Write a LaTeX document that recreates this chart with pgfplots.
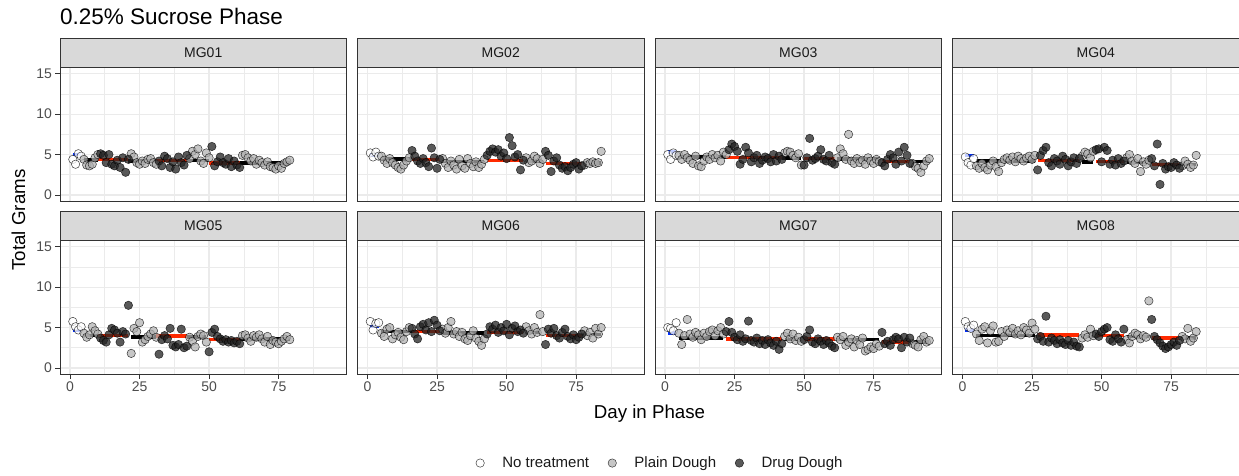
\documentclass[border=0pt]{standalone}
\usepackage{fontspec}
\setmainfont{Liberation Sans}
\usepackage{pgfplots}
\pgfplotsset{compat=1.18}
\definecolor{gridc}{HTML}{EBEBEB}
\definecolor{g20}{HTML}{333333}
\definecolor{g30}{HTML}{4D4D4D}
\definecolor{g10}{HTML}{1A1A1A}
\definecolor{stripc}{HTML}{D9D9D9}
\definecolor{lightpt}{HTML}{B0B0B0}
\definecolor{darkpt}{HTML}{222222}
\definecolor{segred}{HTML}{FF2A00}
\definecolor{segblue}{HTML}{0030FF}
\pgfplotsset{
  /pgf/number format/assume math mode=true,
  panel/.style={
    scale only axis, width=286.5pt, height=133.3pt,
    xmin=-3.6, xmax=99.4, ymin=-0.75, ymax=15.75,
    xtick={0,25,50,75}, ytick={0,5,10,15},
    minor xtick={12.5,37.5,62.5,87.5}, minor ytick={2.5,7.5,12.5},
    grid=both,
    major grid style={draw=gridc, line width=1.3pt},
    minor grid style={draw=gridc, line width=0.65pt},
    axis line style={draw=g20, line width=0.8pt},
    tick align=outside, major tick length=4.6pt, minor tick length=0pt,
    major tick style={draw=g20, line width=0.8pt},
    xtick pos=bottom, ytick pos=left,
    ticklabel style={font=\fontsize{14}{14}\selectfont, text=g30},
    title style={at={(0.5,1)}, anchor=south, yshift=-6pt, minimum width=286.5pt,
      minimum height=28.8pt, inner sep=0pt, fill=stripc, draw=g20, line width=0.8pt,
      font=\fontsize{14}{14}\selectfont, text=g10},
    clip=false,
  },
  hidex/.style={xmajorticks=false, xticklabels={}},
  hidey/.style={ymajorticks=false, yticklabels={}},
  ntp/.style={only marks, mark=*, mark size=4.2pt, mark options={draw=black, draw opacity=0.75, fill=white, fill opacity=0.75, line width=0.5pt}},
  pdp/.style={only marks, mark=*, mark size=4.2pt, mark options={draw=black, draw opacity=0.75, fill=lightpt, fill opacity=0.72, line width=0.5pt}},
  ddp/.style={only marks, mark=*, mark size=4.2pt, mark options={draw=black, draw opacity=0.75, fill=darkpt, fill opacity=0.75, line width=0.5pt}},
  seg/.style={no marks, line width=3.6pt, unbounded coords=jump, forget plot},
}
\newcommand{\pts}[3]{%
  \addplot[ntp] coordinates {#1};
  \addplot[pdp] coordinates {#2};
  \addplot[ddp] coordinates {#3};
}
\newcommand{\segs}[3]{%
  \addplot[seg, segblue] coordinates {#1};
  \addplot[seg, black] coordinates {#2};
  \addplot[seg, segred] coordinates {#3};
}
\begin{document}
\begin{tikzpicture}
\useasboundingbox (0pt,0pt) rectangle (1239pt,475pt);
\node[anchor=base west, font=\fontsize{22.5}{27}\selectfont, inner sep=0pt] at (60pt,450pt) {0.25\% Sucrose Phase};
\node[anchor=base, font=\fontsize{18.7}{22}\selectfont, inner sep=0pt] at (649.5pt,57pt) {Day in Phase};
\node[anchor=base, rotate=90, font=\fontsize{18.7}{22}\selectfont, inner sep=0pt] at (25pt,255pt) {Total Grams};

% MG01
\begin{axis}[panel, hidex, at={(60pt,274pt)}, anchor=south west, title={MG01}]
\pts{(1,4.4)(2,3.8)(3,5.1)(4,4.8)}
{(5,4.4)(6,3.7)(7,3.6)(8,3.8)(9,4.6)(10,5.0) (22,5.1)(23,4.7)(24,4.0)(25,3.8)(26,4.2)(27,3.9)(28,4.4)(29,4.5)(30,4.0)(31,3.8) (43,4.5)(44,5.4)(45,5.0)(46,5.7)(47,4.2)(48,3.9)(49,5.2)(50,4.6) (62,4.9)(63,5.0)(64,4.6)(65,4.2)(66,4.5)(67,3.8)(68,4.3)(69,4.0)(70,3.7)(71,4.1)(72,3.5)(73,3.4)(74,3.2)(75,3.6)(76,3.3)(77,3.9)(78,4.1)(79,4.3)}
{(11,5.1)(12,4.9)(13,4.0)(14,5.0)(15,3.8)(16,3.6)(17,4.3)(18,3.4)(19,4.6)(20,2.8)(21,4.4) (32,4.2)(33,3.6)(34,4.8)(35,4.5)(36,3.4)(37,4.1)(38,3.2)(39,4.7)(40,4.0)(41,3.7)(42,4.9) (51,6.0)(52,3.6)(53,4.1)(54,4.7)(55,4.0)(56,3.8)(57,4.5)(58,3.5)(59,4.2)(60,3.7)(61,3.4)}
\segs{(1,5.0)(4,5.0)}
{(5,4.3)(10,4.3)(0,nan)(21,4.17)(31,4.17)(0,nan)(42,4.25)(50,4.25)(0,nan)(61,3.97)(79,3.97)}
{(10,4.37)(21,4.37)(0,nan)(31,4.25)(42,4.25)(0,nan)(50,3.97)(61,3.97)}
\end{axis}

% MG02
\begin{axis}[panel, hidex, hidey, at={(357.5pt,274pt)}, anchor=south west, title={MG02}]
\pts{(1,5.2)(2,4.7)(3,5.3)(4,4.8)}
{(5,4.8)(6,4.3)(7,3.9)(8,4.5)(9,4.0)(10,3.7)(11,3.4)(12,3.2)(13,3.7)(14,4.2)(15,4.6) (27,4.5)(28,3.9)(29,3.4)(30,4.2)(31,3.7)(32,3.2)(33,4.4)(34,3.6)(35,3.3)(36,4.5)(37,3.9)(38,3.5)(39,4.1)(40,3.4)(41,3.8)(42,4.4) (57,4.6)(58,4.0)(59,4.2)(60,4.8)(61,4.5)(62,3.9)(63,4.4) (78,3.7)(79,4.0)(80,3.9)(81,4.1)(82,3.9)(83,4.0)(84,5.4)}
{(16,5.5)(17,4.8)(18,4.2)(19,3.9)(20,4.5)(21,4.0)(22,3.5)(23,5.8)(24,4.6)(25,3.3)(26,4.4) (43,4.9)(44,5.4)(45,5.7)(46,5.3)(47,5.6)(48,4.8)(49,5.2)(50,4.5)(51,7.1)(52,6.1)(53,4.7)(54,5.0)(55,3.1)(56,4.3) (64,5.4)(65,4.9)(66,2.9)(67,4.2)(68,4.6)(69,3.7)(70,3.3)(71,3.5)(72,3.0)(73,3.4)(74,3.8)(75,4.0)(76,3.2)(77,3.6)}
\segs{(1,4.98)(4,4.98)}
{(5,4.45)(16,4.45)(0,nan)(27,4.12)(42,4.12)(0,nan)(57,4.12)(63,4.12)(0,nan)(78,3.92)(84,3.92)}
{(16,4.37)(26,4.37)(0,nan)(43,4.24)(56,4.24)(0,nan)(64,3.88)(77,3.88)}
\end{axis}

% MG03
\begin{axis}[panel, hidex, hidey, at={(655pt,274pt)}, anchor=south west, title={MG03}]
\pts{(1,5.0)(2,4.4)(3,5.2)(4,4.9)}
{(5,4.9)(6,4.4)(7,5.0)(8,4.6)(9,4.3)(10,3.9)(11,4.8)(12,3.6)(13,3.5)(14,4.2)(15,4.7)(16,4.4)(17,5.0)(18,4.6)(19,4.9)(20,4.2)(21,5.3)(22,5.0) (43,5.2)(44,5.4)(45,5.3)(46,4.9)(47,4.6)(48,5.1)(49,3.7) (62,4.6)(63,5.7)(64,5.1)(65,4.4)(66,7.5)(67,4.2)(68,3.9)(69,4.5)(70,4.0)(71,4.3)(72,3.8)(73,4.6)(74,4.2)(75,3.9)(76,4.4)(77,4.1) (89,3.9)(90,3.5)(91,3.3)(92,2.8)(93,3.6)(94,4.2)(95,4.5)}
{(23,5.6)(24,6.3)(25,6.0)(26,5.4)(27,3.8)(28,4.4)(29,5.9)(30,5.2)(31,4.1)(32,4.6)(33,4.9)(34,3.9)(35,4.3)(36,4.7)(37,4.5)(38,4.1)(39,5.0)(40,4.2)(41,4.8)(42,4.4) (50,3.7)(51,4.6)(52,7.0)(53,4.3)(54,4.5)(55,4.8)(56,5.6)(57,4.4)(58,4.2)(59,4.9)(60,4.0)(61,3.8) (78,4.0)(79,3.6)(80,4.4)(81,5.0)(82,4.6)(83,3.8)(84,5.3)(85,4.2)(86,5.9)(87,4.9)(88,3.9)}
\segs{(1,5.3)(4,5.3)}
{(5,4.7)(22,4.7)(0,nan)(42,4.6)(49,4.6)(0,nan)(62,4.45)(77,4.45)(0,nan)(89,4.12)(95,4.12)}
{(22,4.65)(42,4.65)(0,nan)(50,4.53)(61,4.53)(0,nan)(78,4.12)(88,4.12)}
\end{axis}

% MG04
\begin{axis}[panel, hidex, hidey, at={(952.5pt,274pt)}, anchor=south west, title={MG04}]
\pts{(1,4.7)(2,4.0)(3,3.7)(4,4.5)}
{(5,3.6)(6,3.3)(7,3.9)(8,3.4)(9,3.1)(10,3.7)(11,4.2)(12,3.5)(13,2.9)(14,4.0)(15,4.4)(16,4.6)(17,4.3)(18,4.7)(19,4.1)(20,4.8)(21,4.5)(22,4.2)(23,4.6)(24,4.8)(25,4.4)(26,4.9) (43,4.8)(44,5.3)(45,5.1)(46,4.6)(47,5.4) (59,4.6)(60,5.0)(61,4.2)(62,3.9)(63,4.5)(64,2.9)(65,4.1)(66,3.8)(67,4.3) (79,3.6)(80,4.2)(81,3.8)(82,3.4)(83,3.7)(84,4.9)}
{(27,3.1)(28,4.9)(29,5.5)(30,5.9)(31,4.0)(32,3.6)(33,4.5)(34,4.2)(35,3.8)(36,4.8)(37,4.4)(38,3.6)(39,4.1)(40,4.6)(41,3.9)(42,4.5) (48,5.6)(49,5.7)(50,4.1)(51,5.9)(52,5.5)(53,3.8)(54,4.3)(55,3.7)(56,4.5)(57,3.9)(58,4.2) (68,4.5)(69,3.6)(70,6.3)(71,1.3)(72,3.9)(73,3.2)(74,3.5)(75,3.4)(76,4.0)(77,3.7)(78,3.3)}
\segs{(1,4.86)(4,4.86)}
{(5,4.2)(26,4.2)(0,nan)(43,4.08)(47,4.08)(0,nan)(59,4.04)(67,4.04)(0,nan)(78,3.76)(84,3.76)}
{(27,4.24)(42,4.24)(0,nan)(48,4.12)(58,4.12)(0,nan)(68,3.76)(78,3.76)}
\end{axis}

% MG05
\begin{axis}[panel, at={(60pt,101pt)}, anchor=south west, title={MG05},
  legend style={at={(2.095,-0.668)}, anchor=center, draw=none, fill=none,
    font=\fontsize{15}{17}\selectfont, text=g10,
    /tikz/every odd column/.append style={column sep=16pt},
    /tikz/every even column/.append style={column sep=17pt}},
  legend columns=3]
\addplot[ntp] coordinates {(1,5.75)(2,5.1)(3,4.7)(4,5.1)};
\addlegendentry{No treatment}
\addplot[pdp] coordinates {(5,4.3)(6,3.8)(7,4.1)(8,5.1)(9,4.6)(10,4.2) (22,1.8)(23,4.9)(24,4.5)(25,5.6)(26,3.2)(27,3.5)(28,3.9)(29,4.2)(30,4.6)(31,3.8) (43,3.8)(44,3.3)(45,2.6)(46,3.9)(47,4.2)(48,4.0)(49,3.2) (62,4.0)(63,4.1)(64,3.7)(65,3.3)(66,4.0)(67,3.8)(68,4.1)(69,3.6)(70,3.2)(71,3.9)(72,2.9)(73,3.4)(74,3.2)(75,3.0)(76,3.3)(77,3.6)(78,3.9)(79,3.5)};
\addlegendentry{Plain Dough}
\addplot[ddp] coordinates {(11,3.7)(12,3.4)(13,3.2)(14,4.1)(15,4.9)(16,4.7)(17,4.3)(18,3.2)(19,4.5)(20,4.2)(21,7.75) (32,1.7)(33,3.5)(34,4.0)(35,3.6)(36,4.9)(37,2.8)(38,2.6)(39,2.9)(40,4.8)(41,2.5)(42,2.7) (50,2.0)(51,4.4)(52,4.8)(53,3.9)(54,3.6)(55,3.3)(56,3.5)(57,3.2)(58,3.4)(59,3.1)(60,3.3)(61,3.0)};
\addlegendentry{Drug Dough}
\segs{(1,4.65)(4,4.65)}
{(5,4.0)(10,4.0)(0,nan)(22,3.84)(31,3.84)(0,nan)(42,3.84)(49,3.84)(0,nan)(61,3.6)(79,3.6)}
{(10,4.0)(21,4.0)(0,nan)(31,3.92)(42,3.92)(0,nan)(50,3.5)(61,3.5)}
\end{axis}

% MG06
\begin{axis}[panel, hidey, at={(357.5pt,101pt)}, anchor=south west, title={MG06}]
\pts{(1,5.75)(2,4.7)(3,5.5)(4,5.6)}
{(5,4.3)(6,3.9)(7,4.8)(8,5.0)(9,3.6)(10,4.1)(11,4.4)(12,3.8)(13,3.5)(14,4.5)(15,5.0) (27,4.8)(28,4.3)(29,5.0)(30,5.75)(31,4.2)(32,4.5)(33,3.9)(34,4.4)(35,3.6)(36,3.4)(37,4.0)(38,4.6)(39,3.7)(40,3.3)(41,2.8)(42,3.6) (57,5.1)(58,4.6)(59,4.2)(60,5.0)(61,4.4)(62,6.6)(63,4.5) (78,4.6)(79,4.0)(80,4.4)(81,3.7)(82,4.9)(83,4.2)(84,5.0)}
{(16,4.9)(17,4.2)(18,3.6)(19,5.1)(20,5.4)(21,4.7)(22,5.6)(23,4.5)(24,5.9)(25,5.3)(26,4.6) (43,4.2)(44,5.1)(45,4.8)(46,5.3)(47,4.4)(48,5.0)(49,4.6)(50,5.4)(51,4.1)(52,4.9)(53,5.2)(54,4.5)(55,4.7)(56,4.3) (64,2.9)(65,4.8)(66,4.3)(67,4.9)(68,4.0)(69,3.7)(70,4.4)(71,4.8)(72,3.9)(73,3.6)(74,4.1)(75,3.5)(76,3.8)(77,4.2)}
\segs{(1,5.14)(4,5.14)}
{(5,4.53)(16,4.53)(0,nan)(27,4.33)(42,4.33)(0,nan)(57,4.4)(62,4.4)(0,nan)(77,4.12)(84,4.12)}
{(16,4.53)(26,4.53)(0,nan)(43,4.4)(56,4.4)(0,nan)(64,4.04)(77,4.04)}
\end{axis}

% MG07
\begin{axis}[panel, hidey, at={(655pt,101pt)}, anchor=south west, title={MG07}]
\pts{(1,5.0)(2,4.9)(3,4.6)(4,5.6)}
{(5,4.3)(6,2.9)(7,4.0)(8,6.0)(9,4.2)(10,3.8)(11,4.4)(12,4.1)(13,3.5)(14,4.3)(15,3.9)(16,4.5)(17,4.7)(18,4.0)(19,4.6)(20,5.0)(21,4.2) (43,3.9)(44,4.3)(45,3.6)(46,4.2)(47,3.4)(48,3.8)(49,3.3) (62,3.8)(63,3.5)(64,3.9)(65,2.8)(66,3.2)(67,3.6)(68,2.6)(69,3.4)(70,2.9)(71,3.7)(72,2.1)(73,2.3)(74,2.6)(75,2.4)(76,3.0)(77,2.7) (89,3.0)(90,2.8)(91,2.6)(92,3.5)(93,3.9)(94,3.2)(95,3.4)}
{(22,4.5)(23,5.75)(24,4.4)(25,3.8)(26,3.5)(27,4.1)(28,3.3)(29,3.6)(30,5.8)(31,3.4)(32,3.2)(33,3.7)(34,3.0)(35,3.4)(36,2.9)(37,3.5)(38,3.1)(39,2.8)(40,3.3)(41,2.3)(42,3.0) (50,3.5)(51,3.9)(52,4.7)(53,3.2)(54,3.0)(55,3.6)(56,3.3)(57,2.9)(58,3.4)(59,3.1)(60,2.7)(61,2.5) (78,4.4)(79,3.0)(80,3.3)(81,2.8)(82,3.5)(83,3.8)(84,3.6)(85,2.5)(86,3.8)(87,3.2)(88,3.7)}
\segs{(1,4.33)(4,4.33)}
{(5,3.7)(21,3.7)(0,nan)(43,3.5)(49,3.5)(0,nan)(62,3.5)(77,3.5)(0,nan)(89,3.2)(95,3.2)}
{(22,3.6)(42,3.6)(0,nan)(50,3.6)(61,3.6)(0,nan)(78,3.2)(88,3.2)}
\end{axis}

% MG08
\begin{axis}[panel, hidey, at={(952.5pt,101pt)}, anchor=south west, title={MG08}]
\pts{(1,5.75)(2,5.1)(3,4.9)(4,5.3)}
{(5,4.2)(6,3.4)(7,4.8)(8,5.1)(9,3.1)(10,4.6)(11,5.2)(12,3.2)(13,3.3)(14,4.5)(15,3.9)(16,4.7)(17,4.4)(18,4.9)(19,4.2)(20,4.6)(21,4.1)(22,5.0)(23,4.7)(24,4.3)(25,5.55)(26,4.8) (43,3.7)(44,4.1)(45,3.8)(46,4.8)(47,4.0) (59,3.5)(60,3.1)(61,3.9)(62,4.3)(63,4.1)(64,3.6)(65,4.0)(66,3.8)(67,8.3) (79,3.9)(80,3.6)(81,4.9)(82,3.3)(83,3.7)(84,4.5)}
{(27,3.6)(28,3.9)(29,3.3)(30,6.4)(31,3.2)(32,3.7)(33,3.4)(34,3.0)(35,3.5)(36,3.1)(37,2.9)(38,3.4)(39,2.8)(40,3.2)(41,2.7)(42,2.6) (48,4.2)(49,3.9)(50,4.5)(51,4.8)(52,5.0)(53,3.5)(54,3.3)(55,4.1)(56,3.6)(57,3.2)(58,4.8) (68,6.0)(69,3.9)(70,3.5)(71,3.1)(72,2.7)(73,2.4)(74,2.6)(75,2.9)(76,3.2)(77,2.8)(78,3.4)}
\segs{(1,4.73)(4,4.73)}
{(5,4.04)(26,4.04)(0,nan)(43,3.9)(47,3.9)(0,nan)(59,3.9)(67,3.9)(0,nan)(78,3.67)(84,3.67)}
{(27,4.08)(42,4.08)(0,nan)(48,4.0)(58,4.0)(0,nan)(68,3.67)(78,3.67)}
\end{axis}
\end{tikzpicture}
\end{document}
